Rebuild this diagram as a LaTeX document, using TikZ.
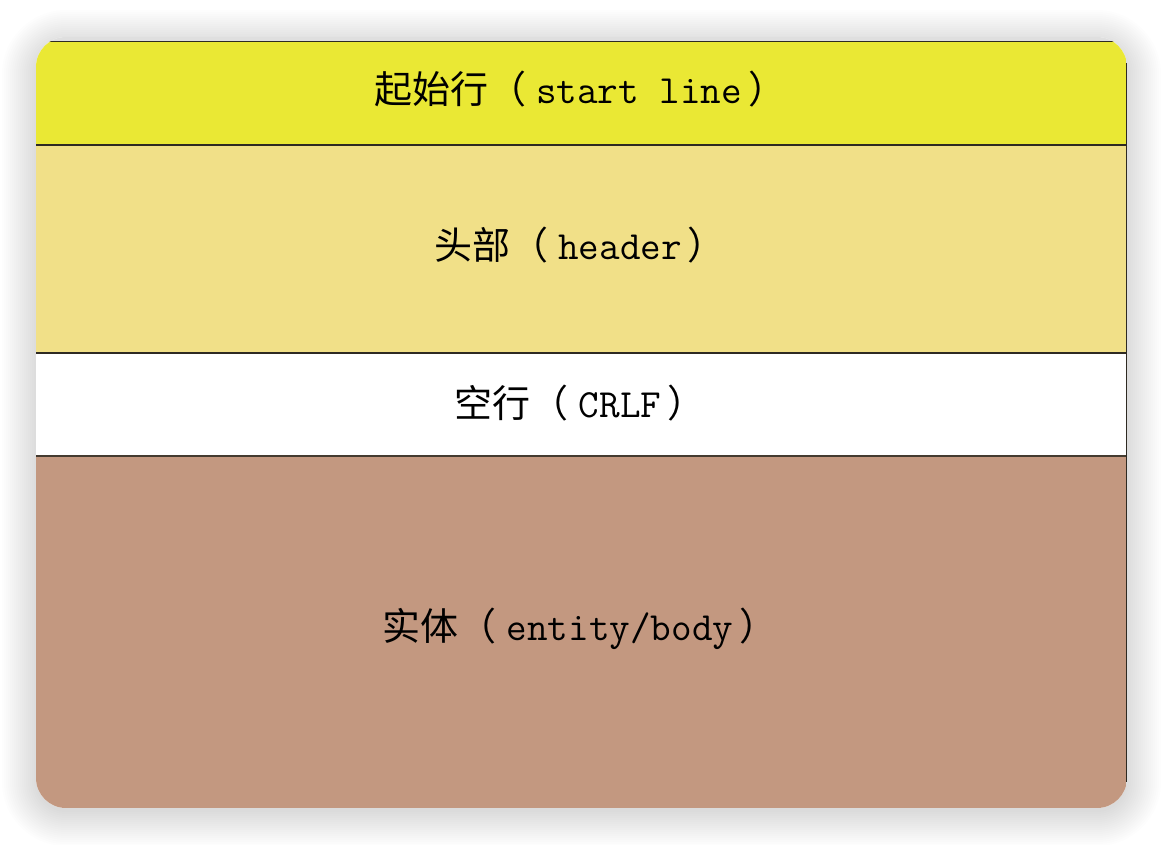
\documentclass[tikz,border=0pt]{standalone}
\usepackage{fontspec}
\newfontfamily\cjk{Noto Sans CJK SC}
\definecolor{startc}{HTML}{EAE834}
\definecolor{headc}{HTML}{F1E088}
\definecolor{bodyc}{HTML}{C39880}
\definecolor{linec}{HTML}{2E2A22}
\tikzset{
  bandlabel/.style={text=black, inner sep=0pt, font=\cjk\fontsize{38}{40}\selectfont},
  sepline/.style={draw=linec, line width=1.2pt},
}
\newcommand{\lat}[1]{{\ttfamily\fontsize{40}{40}\selectfont\hspace{10pt}#1\hspace{6pt}}}
\begin{document}
\begin{tikzpicture}[x=1pt,y=-1pt]
\useasboundingbox (0,0) rectangle (1164,844);
\fill[white] (0,0) rectangle (1164,844);
% soft shadow
\foreach \e in {34,32,...,0} {
  \fill[black, opacity=0.006, rounded corners={30+\e}] (36-\e,44-\e) rectangle (1127+\e,812+\e);
}
% card
\begin{scope}
  \clip[rounded corners=30] (36,37) rectangle (1127,808);
  \fill[white] (36,37) rectangle (1127,808);
  \fill[gray!25] (36,37) rectangle (1127,41);
  \fill[startc] (36,41) rectangle (1127,145);
  \fill[headc] (36,145) rectangle (1127,353);
  \fill[white] (36,353) rectangle (1127,456);
  \fill[bodyc] (36,456) rectangle (1127,808);
  \draw[linec, line width=0.8pt] (36,41) -- (1127,41);
  \draw[sepline] (36,145) -- (1127,145);
  \draw[sepline] (36,353) -- (1127,353);
  \draw[sepline, draw=linec!85!bodyc, line width=1.6pt] (36,456) -- (1127,456);
  \draw[linec, line width=1pt] (1126.5,41) -- (1126.5,790);
\end{scope}
% labels
\node[bandlabel] (start) at (580,89) {起始行（\lat{start line}）};
\node[bandlabel] (header) at (580,245) {头部（\lat{header}）};
\node[bandlabel] (crlf) at (580,403) {空行（\lat{CRLF}）};
\node[bandlabel] (body) at (580,629) {实体（\lat{entity/body}）};
\end{tikzpicture}
\end{document}
